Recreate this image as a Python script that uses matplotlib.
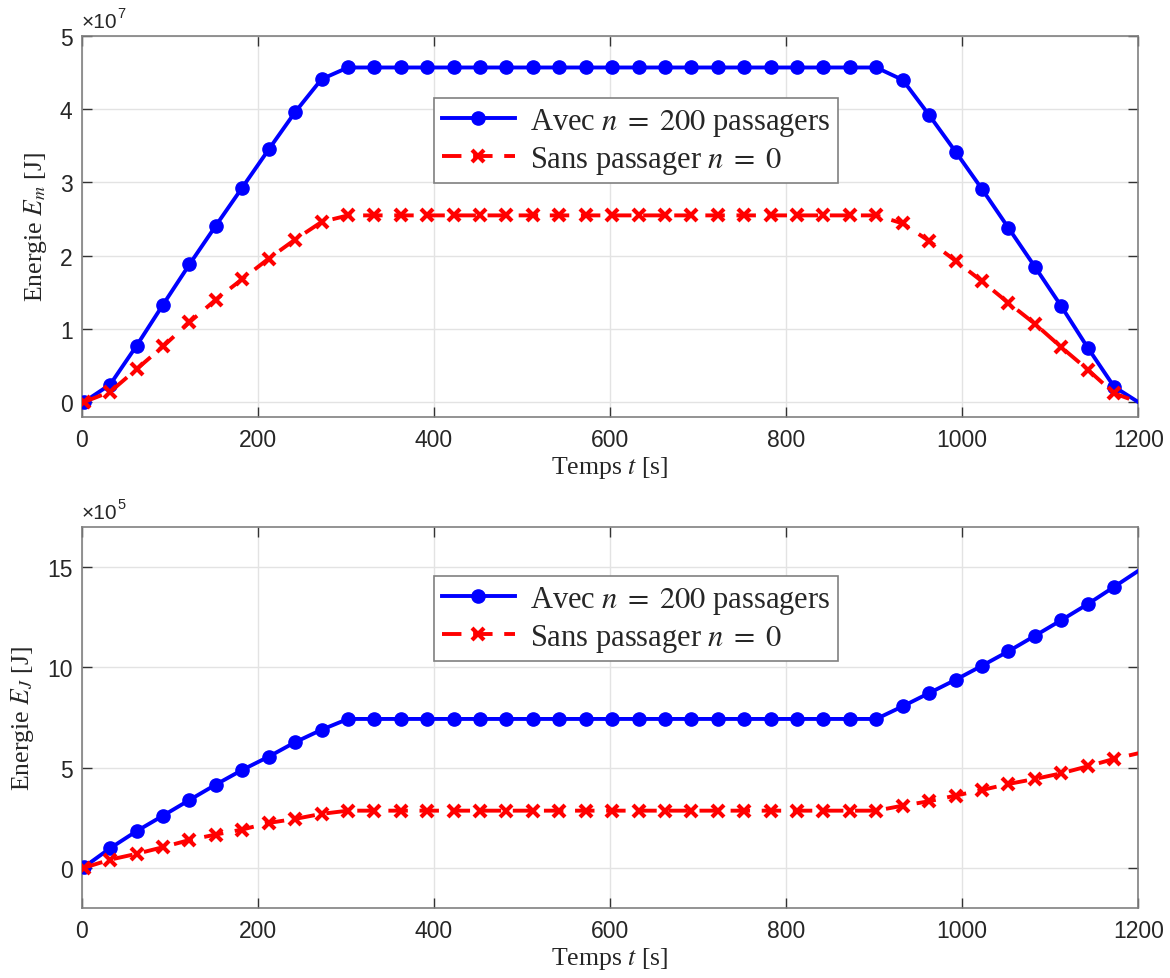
"""
Energie mecanique et energie Joule - avec / sans passagers
"""

import numpy as np
import matplotlib

matplotlib.use("Agg")
import matplotlib.pyplot as plt
from matplotlib.ticker import FuncFormatter

plt.rcParams["mathtext.fontset"] = "stix"

# Data (time samples every 30 s, plus final point at 1200 s)
t = list(np.arange(2.5, 1200, 30)) + [1200]

# Energie mecanique E_m (x 1e7 J)
em_avec = ([0.00, 0.24, 0.77, 1.33, 1.88, 2.41, 2.93, 3.45, 3.96, 4.41]
           + [4.57] * 21
           + [4.40, 3.92, 3.42, 2.91, 2.38, 1.85, 1.31, 0.745, 0.21, 0.00])
em_sans = ([0.00, 0.14, 0.45, 0.76, 1.09, 1.40, 1.68, 1.96, 2.22, 2.46]
           + [2.55] * 21
           + [2.44, 2.20, 1.93, 1.65, 1.355, 1.07, 0.75, 0.445, 0.12, 0.00])

# Energie Joule E_J (x 1e5 J)
ej_avec = ([0.03, 0.98, 1.83, 2.60, 3.38, 4.15, 4.88, 5.54, 6.26, 6.88]
           + [7.42] * 21
           + [8.05, 8.71, 9.37, 10.07, 10.79, 11.56, 12.34, 13.14, 14.00, 14.80])
ej_sans = ([0.00, 0.41, 0.70, 1.03, 1.39, 1.66, 1.91, 2.24, 2.44, 2.69]
           + [2.85] * 21
           + [3.10, 3.32, 3.60, 3.88, 4.18, 4.43, 4.71, 5.06, 5.43, 5.71])

label_avec = r"Avec $n\;=\;200$ passagers"
label_sans = r"Sans passager $n\;=\;0$"

SERIF = "Liberation Serif"
SANS = ["Liberation Sans", "DejaVu Sans"]
GRAY = "#808080"
TXT = "#262626"

fig = plt.figure(figsize=(11.7, 9.79), dpi=100)
ax1 = fig.add_axes([0.0697, 0.5733, 0.9032, 0.3889])
ax2 = fig.add_axes([0.0697, 0.0715, 0.9032, 0.3895])


def draw(ax, y_avec, y_sans, scale, ylim, yticks, ylabel, exp, leg_y):
    ax.plot(t, np.array(y_avec) * scale, color="#0000ff", lw=2.8,
            marker="o", markersize=9.5, markevery=slice(0, 40),
            label=label_avec, zorder=3)
    ax.plot(t, np.array(y_sans) * scale, color="#ff0000", lw=2.8,
            linestyle=(0, (5, 3)), marker="x", markersize=9, mew=3,
            markevery=slice(0, 40), label=label_sans, zorder=3)

    ax.set_xlim(0, 1200)
    ax.set_ylim(ylim[0] * scale, ylim[1] * scale)
    ax.set_xticks([0, 200, 400, 600, 800, 1000, 1200])
    ax.set_yticks(np.array(yticks) * scale)
    ax.yaxis.set_major_formatter(FuncFormatter(lambda v, p: f"{v / scale:g}"))

    ax.grid(True, color="#e3e3e3", lw=1)
    ax.set_axisbelow(True)
    for s in ax.spines.values():
        s.set_color(GRAY)
        s.set_linewidth(1.2)
    ax.tick_params(direction="in", length=7.5, width=1, color="#333333",
                   top=True, right=True, labelsize=16.5, labelcolor=TXT)
    ax.tick_params(axis="x", pad=8)
    ax.tick_params(axis="y", pad=6.5)
    for lab in ax.get_xticklabels() + ax.get_yticklabels():
        lab.set_family(SANS)

    ax.set_xlabel(r"Temps $t$ [s]", fontsize=18.5, family=SERIF, color=TXT,
                  labelpad=2)
    ax.set_ylabel(ylabel, fontsize=18.5, family=SERIF, color=TXT, labelpad=8)
    ax.text(0.0, 1.023, "×10", transform=ax.transAxes, fontsize=15,
            family=SANS, color=TXT, ha="left", va="baseline")
    ax.text(0.034, 1.049, exp, transform=ax.transAxes, fontsize=10.5,
            family=SANS, color=TXT, ha="left", va="baseline")

    leg = ax.legend(loc="upper left", bbox_to_anchor=(0.3336, leg_y),
                    borderaxespad=0, handlelength=2.4,
                    handletextpad=0.5, borderpad=0.25, labelspacing=0.2,
                    fancybox=False, framealpha=1, edgecolor=GRAY,
                    prop={"family": SERIF, "size": 22})
    leg.get_frame().set_linewidth(1.2)
    for txt in leg.get_texts():
        txt.set_color(TXT)


draw(ax1, em_avec, em_sans, 1e7, (-0.2, 5), [0, 1, 2, 3, 4, 5],
     r"Energie $E_m$ [J]", "7", 0.837)
draw(ax2, ej_avec, ej_sans, 1e5, (-2, 17), [0, 5, 10, 15],
     r"Energie $E_J$ [J]", "5", 0.871)

fig.savefig("out.png", dpi=100)
